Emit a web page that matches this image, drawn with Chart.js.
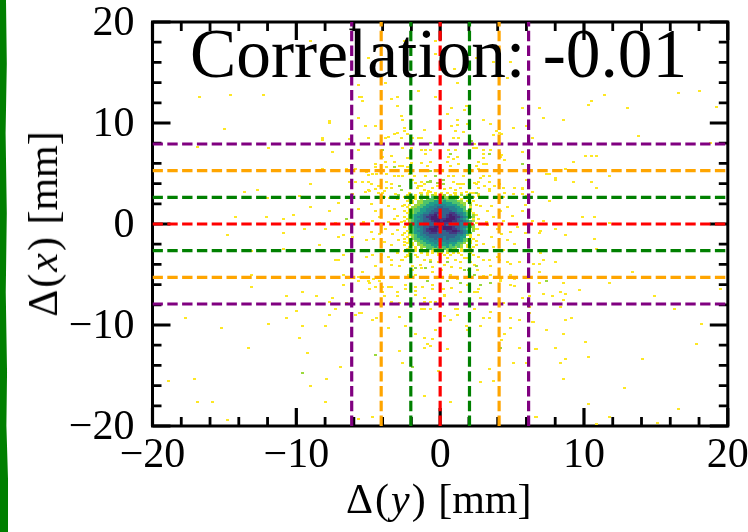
<!DOCTYPE html>
<html>
<head>
<meta charset="utf-8">
<style>
  html, body { margin: 0; padding: 0; background: #fff; overflow: hidden; }
  #wrap { position: relative; width: 748px; height: 532px; font-family: "Liberation Serif", serif; color: #000; }
  #stripe { position: absolute; left: 0; top: 0; width: 8px; height: 532px; background: #007f00;
    clip-path: polygon(0 0, 75% 0, 85% 12%, 70% 25%, 85% 40%, 72% 55%, 88% 70%, 80% 80%, 100% 90%, 100% 100%, 0 100%); }
  canvas { position: absolute; left: 0; top: 0; }
  .txt { position: absolute; white-space: nowrap; line-height: 1; }
  .math { letter-spacing: 2px; }
  #xlabel { left: 346px; top: 478px; font-size: 42px; }
  #ylabel { left: 43px; top: 224px; font-size: 42px; transform: translate(-50%, -50%) rotate(-90deg); }
  #corr { left: 190px; top: 19px; font-size: 69.4px; }
</style>
</head>
<body>
<div id="wrap">
  <div id="stripe"></div>
  <canvas id="chart" width="748" height="532"></canvas>
  <div class="txt" id="corr">Correlation: -0.01</div>
  <div class="txt" id="xlabel"><span class="math">Δ(<i>y</i>)</span> [mm]</div>
  <div class="txt" id="ylabel"><span class="math">Δ(<i>x</i>)</span> [mm]</div>
</div>
<script src="https://cdn.jsdelivr.net/npm/chart.js@4/dist/chart.umd.js"></script>
<script>
const axisMin = -20;
const axisMax = 20;
const majorTicks = [-20, -10, 0, 10, 20];
const minorTicks = [-18, -16, -14, -12, -8, -6, -4, -2, 2, 4, 6, 8, 12, 14, 16, 18];

// dashed cut lines, in mm
const horizontalCuts = [7.92, 5.28, 2.64, 0, -2.64, -5.28, -7.92];
const verticalCuts = [6.15, 4.1, 2.04, 0, -2.04, -4.1, -6.15];
const cutColors = { 0: 'red', 2: 'green', 5: 'orange', 7: 'purple', 4: 'orange', 6: 'purple' };

// histogram colours, lowest count first
const levelColors = ['#fde725', '#9bd93c', '#4ec36b', '#1f9e89', '#26828e', '#33638d', '#443983', '#481f70'];

// core of the histogram, one string per row, digit = colour level, dot = empty bin
const coreXStart = -2.5;
const coreYStart = 3.1;
const binSize = 0.2;
const coreRows = [
  "..0...0.0..0.0.0..0.0...0.",
  ".0..0.1.0.10.01.0.0.1.0...",
  "0...0.1.1.2012110.10.0..0.",
  "..0.0.1.12212221221.0.....",
  ".0.0.1122223323222211.0.0.",
  "...0.11223333333322211.0..",
  "0.0.112233344443333221.1.0",
  ".0.1122334445544443322.0..",
  "..01223344455555444332.1..",
  "0.0122334455555554433210..",
  ".0.12334455665556654432.0.",
  "..123345566755567665432.10",
  "0.12344566776556776654321.",
  ".0123345567776677765432.0.",
  "0.12344555677677766554321.",
  "..1334455556776665554432.0",
  ".013344555566765555544321.",
  "0.12344556677677765544321.",
  "..123345677766777665432.10",
  ".0.23445667765566776543.1.",
  "0.1233455666555566655432..",
  "..01234455555555555443 10.".replace(' ', ''),
  ".0.1233445555545554433.0..",
  "0.012233444545454444321.0.",
  "..0.12233444444444433210.0",
  ".0.0.122333433343332 21.0.".replace(' ', ''),
  "0..0.112223333332322 1.0..".replace(' ', ''),
  "..0.0.112223222 322121.0.0".replace(' ', ''),
  ".0..0.1.22112121211.0..0..",
  "0...0.0.1.0101.1010.0.0...",
  "..0...0.0.0.00.0.0.0...0..",
  ".0..0...0...0.0.0...0...0."
];

// single-count bins outside the core (x, y in mm)
const yellowCells = [
  [-16.75,12.6],[-14.6,12.8],[-12.3,12.8],[-7.7,10.2],[-7.7,10.0],[-15.0,9.4],[-8.2,8.3],[-8.2,8.5],[-16.9,7.6],[-11.9,7.5],
  [-7.5,7.1],[-5.7,7.3],[-8.2,5.4],[-6.5,5.4],[-9.0,4.0],[-13.6,3.2],[-12.7,3.4],[-9.8,2.8],[-12.0,2.6],[-9.0,1.7],
  [-7.1,2.1],[-7.7,1.3],[-5.7,1.5],[-14.2,0.7],[-12.1,0.7],[-10.9,0.5],[-10.2,0.9],[-5.7,13.8],[-5.6,12.6],[-5.7,10.5],
  [-6.3,8.4],[-6.3,4.2],[-5.9,4.2],[-6.1,3.0],[-5.9,5.4],
  [-14.8,-1.1],[-10.9,-0.9],[-9.4,-0.5],[-8.4,0.1],[-7.3,0.1],[-8.0,-0.5],[-7.1,-1.3],[-6.7,-1.1],[-6.1,-1.3],[-8.4,-2.1],
  [-10.9,-2.5],[-13.1,-2.7],[-6.7,-3.1],[-7.3,-3.6],[-7.1,-3.6],[-13.1,-5.0],[-7.5,-5.2],[-6.7,-5.0],[-5.7,-5.2],[-5.7,-5.6],
  [-6.7,-6.0],[-13.1,-6.2],[-10.7,-7.1],[-9.6,-6.7],[-8.6,-7.1],[-7.5,-7.3],[-7.7,-7.7],[-6.5,-7.9],[-10.0,-8.6],[-7.3,-8.4],
  [-7.7,-9.0],[-5.9,-9.0],[-5.6,-8.8],[-17.7,-9.3],[-10.7,-9.3],[-15.2,-10.3],[-11.9,-9.9],[-9.6,-10.1],[-8.0,-10.1],[-9.8,-11.3],
  [-13.3,-12.3],[-9.2,-12.8],[-6.9,-14.2],[-7.9,-15.3],[-9.0,-16.0],[-17.1,-15.3],[-18.9,-15.5],[-16.9,-17.6],[-15.8,-17.6],[-8.0,-17.6],
  [-14.8,-19.4],[-5.7,-19.3],
  [11.4,12.8],[10.5,12.2],[10.3,11.8],[13.0,11.5],[16.6,13.0],[18.0,13.2],[19.2,11.6],[5.7,11.5],[6.9,11.5],[7.2,10.5],
  [8.6,10.3],[6.4,8.5],[13.8,8.7],[18.8,8.0],[5.7,7.1],[10.1,6.7],[10.5,6.7],[10.9,6.7],[9.3,6.1],[8.7,5.4],
  [7.4,5.0],[7.6,5.0],[8.0,4.6],[8.0,4.4],[11.8,4.8],[6.0,4.4],[9.3,4.2],[10.5,4.2],[10.9,3.6],[5.7,3.6],
  [6.4,3.2],[5.7,3.0],[6.0,2.8],[7.6,2.3],[5.9,1.9],[5.7,1.3],[6.4,0.3],[7.2,0.3],[9.9,0.7],[10.7,0.7],
  [8.9,0.1],[11.8,0.1],[8.0,-0.5],[7.0,-0.7],[6.9,-0.9],[5.9,-0.9],[8.7,-1.1],[10.7,-1.5],[10.9,-2.5],[7.0,-2.9],
  [7.2,-3.6],[6.9,-4.0],[8.0,-3.8],[6.9,-4.8],[13.4,-4.8],[6.9,-5.8],[8.6,-5.8],[11.8,-5.8],[9.7,-6.5],[8.4,-6.7],
  [8.7,-6.9],[7.2,-6.9],[7.8,-7.1],[14.9,-7.1],[19.5,-6.4],[8.6,-7.5],[5.7,-7.3],[6.2,-7.1],
  [6.2,-8.2],[8.4,-8.2],[6.2,-8.8],[6.4,-9.7],[8.7,-9.5],[9.1,-9.3],[16.3,-8.4],[18.2,-9.9],[7.4,-10.5],[8.6,-10.9],
  [10.1,-11.7],[17.8,-11.9],[6.6,-12.4],[8.0,-12.3],[6.0,-13.8],[8.4,-13.8],[8.7,-13.4],[10.3,-13.2],[14.1,-13.4],[8.6,-15.3],
  [12.8,-16.2],[10.3,-17.8],[16.6,-18.3],[6.6,-19.1],[11.8,-19.1],[15.1,-19.7],[10.9,-19.8],
  [-9.0,18.1],[-2.5,18.1],[-0.3,18.1],[-0.3,16.8],[-5.0,16.4],[-3.8,14.0],[2.5,16.4],[3.7,16.0],[4.9,16.0],[1.0,15.3],
  [4.7,14.5],[1.2,14.0],[-1.5,13.2],[-0.3,12.6],[-5.5,12.6],[-5.4,12.2],[-3.4,12.4],[-3.0,12.6],[-3.0,11.7],[-2.7,10.7],
  [-2.6,10.3],[0.5,10.9],[0.8,11.5],[1.7,11.3],[1.8,11.7],[1.2,10.3],[3.0,10.3],[1.9,9.9],[0.8,9.7],[1.2,9.8],
  [3.5,9.9],[5.1,9.5],[6.0,9.7],[-5.2,9.7],[-4.5,9.7],[-2.5,9.5],[-1.1,9.3],[1.1,9.2],[1.6,9.1],[3.9,9.2],
  [-3.6,8.6],[-3.0,9.0],[-3.8,8.5],[-2.5,9.2],[-1.5,8.5],[-1.3,8.5],[0.9,8.5],[1.3,8.5],[3.7,8.8],[4.1,9.0],
  [-5.0,8.5],[-3.2,8.9],[-2.7,8.5],[-2.3,8.9],[-1.9,8.5],[4.3,8.9],[2.4,7.9],[-2.6,7.5],[-2.0,7.5],[-1.3,7.3],
  [-1.0,7.3],[-0.7,7.3],[0.6,7.3],[1.1,7.3],[2.3,7.5],[2.5,7.5],[3.0,7.3],[3.5,7.3],[-3.4,6.7],[-2.3,6.5],
  [-2.0,6.0],[-1.0,6.9],[0.6,6.6],[1.2,6.6],[0.9,6.4],[3.0,6.9],[3.0,6.5],[4.1,7.0],[4.3,6.8],[4.2,6.6],
  [-4.0,6.6],[-3.8,6.1],[-3.2,6.1],[-4.5,5.9],[-4.5,5.6],[-3.7,5.6],[-2.8,5.7],[-2.6,5.7],[-1.3,6.0],[-0.7,6.1],
  [-0.9,5.7],[0.5,6.1],[0.7,5.7],[1.3,5.9],[2.7,6.1],[3.0,5.9],[3.2,5.9],[4.5,6.3],[2.5,5.7],[2.7,5.4],
  [-5.1,5.1],[-5.0,4.9],[-4.7,5.0],[-4.4,5.0],[-3.7,5.0],[-3.2,4.8],[-2.3,5.6],[-2.1,5.0],[-1.8,4.8],[-1.0,4.8],
  [0.6,4.8],[0.9,4.8],[1.6,4.8],[3.0,4.8],[3.4,4.8],[2.8,4.6],[-2.9,4.8],[-2.6,4.8],[-5.4,4.2],[-5.0,4.2],
  [-4.8,4.0],[-3.7,4.2],[-3.4,4.0],[-1.9,4.4],[-1.3,4.2],[0.9,4.2],[1.2,4.0],[1.6,4.0],[2.4,4.1],[2.7,4.2],
  [3.4,4.2],[3.8,3.8],[-4.3,3.8],[-3.7,3.6],[-3.4,3.6],[-3.1,3.0],[-1.7,4.1],[-1.5,3.8],[-1.3,3.8],[-1.1,3.4],
  [-0.7,3.2],[-0.5,3.6],[0.7,3.6],[1.1,3.4],[1.4,3.6],[1.8,3.2],[2.7,3.6],[3.1,3.8],[3.4,3.5],[4.4,3.6],
  [5.2,3.6],[5.7,3.5],[-5.0,3.4],[-5.2,3.2],[-4.3,3.1],[-3.9,3.3],[4.5,3.1],[5.1,3.0],[2.7,2.8],[3.1,2.6],
  [4.4,2.7],[-3.9,2.7],[-3.5,2.6],
  [-4.9,3.3],[-4.5,3.5],[-4.0,3.1],[-4.8,2.0],[-4.5,1.3],[-4.2,0.7],[-3.6,1.8],[-3.2,1.5],[-3.0,2.5],[-2.6,1.8],
  [-4.7,0.3],[-5.3,0.2],[-4.1,-0.1],[-3.6,0.2],[-3.2,0.5],[-3.0,0.8],[-2.7,0.2],[-4.8,-0.8],[-4.2,-1.0],[-3.8,-0.5],
  [-3.3,-1.0],[-3.0,-0.6],[-2.5,-0.3],[-5.1,-1.6],[-4.6,-1.5],[-3.9,-1.8],[-3.4,-2.1],[-2.9,-1.6],[-2.6,-1.1],[-2.5,-1.8],
  [-5.1,-3.3],[-4.1,-3.1],[-3.6,-3.3],[-3.0,-2.9],[-2.6,-3.6],[-2.4,-3.3],
  [2.7,3.0],[3.4,3.3],[4.1,4.0],[2.8,1.8],[3.3,1.3],[3.6,1.8],[4.2,1.3],[4.7,1.7],[2.7,0.5],[3.2,0.2],
  [3.7,0.7],[4.4,0.3],[5.0,0.8],[2.6,-0.5],[3.3,-0.1],[4.0,-0.5],[2.7,-1.1],[3.6,-1.3],[4.3,-1.0],[4.9,-0.8],
  [5.4,-0.3],[4.7,-1.6],[2.5,-2.1],[3.0,-2.0],[3.7,-2.3],[4.4,-2.6],[5.2,-2.0],[2.7,-3.3],[3.4,-3.6],[4.0,-3.3],[4.7,-3.8],
  [-1.6,3.6],[-1.1,4.0],[-0.2,3.8],[0.3,3.5],[0.7,3.6],[1.4,4.0],[2.5,4.0],[-1.4,3.1],[-0.8,3.3],[1.0,3.1],[2.1,3.1],
  [-1.6,-3.3],[-0.7,-3.6],[-0.1,-3.8],[0.5,-3.4],[1.1,-3.6],[1.7,-3.4],[2.1,-3.8],[-1.4,-4.1],[-0.5,-4.3],[0.3,-4.1],
  [0.8,-4.3],[1.4,-4.4],[2.4,-4.1],
  [-4.7,-3.1],[-4.5,-4.2],[-4.1,-3.8],[-3.4,-3.6],[-3.4,-4.1],[-2.7,-3.6],[-2.8,-4.2],[-2.2,-3.2],[-1.9,-4.2],[-1.3,-4.4],
  [-1.1,-3.6],[1.4,-3.8],[1.9,-3.4],[3.0,-3.6],[3.5,-4.2],[4.1,-3.6],[5.5,-3.8],[4.9,-4.0],[6.5,-4.0],
  [-5.4,-4.8],[-5.7,-5.2],[-5.0,-5.6],[-4.6,-5.4],[-4.2,-5.2],[-4.2,-5.6],[-3.2,-5.2],[-2.2,-5.0],[-1.9,-4.6],[-1.7,-5.0],
  [-1.3,-5.2],[-0.5,-4.8],[0.1,-4.6],[0.7,-5.0],[1.2,-5.4],[2.6,-4.6],[3.0,-5.1],[3.5,-5.0],[4.2,-5.4],[4.9,-5.0],
  [5.2,-5.4],[-4.9,-5.8],[-4.5,-6.2],[-3.6,-6.2],[-3.4,-6.2],[-4.9,-6.4],[-4.0,-6.2],[-2.4,-6.0],[-1.7,-6.2],[-1.2,-6.2],
  [-0.5,-6.0],[2.0,-6.0],[4.2,-5.6],[4.9,-6.0],[5.2,-6.1],[-3.0,-6.7],[-2.4,-6.4],[-4.0,-6.7],[-3.9,-7.1],[-3.0,-7.1],
  [-1.7,-6.6],[-1.7,-7.0],[-0.5,-6.4],[0.2,-6.4],[0.3,-7.0],[0.8,-6.3],[1.4,-6.7],[1.9,-6.0],[2.4,-6.7],[2.6,-6.7],
  [2.7,-6.4],[-1.1,-7.3],[-1.1,-7.7],[-0.7,-7.7],[-0.3,-7.7],[0.3,-7.1],[2.8,-7.3],[-6.5,-7.8],[-3.4,-7.7],[-2.8,-7.8],
  [4.1,-7.8],[4.4,-7.8],[-1.1,-8.4],[-1.3,-8.4],[-0.7,-8.4],[1.1,-8.4],[1.2,-8.4],[2.4,-8.4],[3.5,-8.7],[-5.9,-9.0],
  [-5.5,-8.8],[-4.7,-9.5],[-4.4,-9.3],[-2.8,-9.2],[-2.4,-10.1],[0.3,-9.1],[0.7,-9.5],[1.2,-9.0],[3.0,-9.3],[3.4,-9.3],
  [4.9,-9.3],[5.5,-9.5],[6.5,-9.7],[-3.6,-10.3],[-0.3,-10.5],[1.8,-10.1],[2.8,-10.1],[4.9,-10.3],[-1.7,-10.9],[-1.1,-11.3],
  [-0.5,-11.4],[1.9,-10.5],[4.5,-10.9],
  [0.5,-12.4],[-1.1,-12.3],[-0.7,-12.1],[-0.9,-11.9],[-2.8,-12.6],[-2.6,-13.8],[-0.1,-14.6],[-1.1,-17.0],[0.7,-17.6],[-4.7,-19.1],
  [4.3,-11.5],[5.5,-12.3],[6.7,-12.4],[5.1,-13.8],[6.0,-13.8],[3.4,-14.4],[2.8,-15.6],[3.7,-15.5],[6.7,-19.1]
];

// two-count bins outside the core
const greenCells = [
  [-6.5,0.5],[-9.6,-14.8],[5.7,5.9],[7.4,-5.6],[-0.7,8.0],[2.2,8.2],[-4.0,7.3],[0.7,6.9],[3.4,6.9],[-3.2,5.6],
  [-0.7,5.2],[-0.3,4.8],[0.2,4.4],[-0.9,4.2],[-0.7,4.2],[-0.2,4.1],[0.2,4.0],[-2.8,3.8],[-2.7,3.4],[-2.9,2.9],
  [2.5,3.1],[-0.7,4.3],[-1.7,-4.4],[-1.0,-4.4],[-0.7,-3.8],[0.5,-3.8],[2.5,-4.2],[1.7,-4.6],[2.0,-4.6],[2.4,-5.0],
  [-0.9,-5.6],[0.5,-5.6],[1.4,-5.8],[2.8,-6.0],[3.5,-5.8],[4.2,-12.3],[-4.5,-13.0],[-1.9,-14.2]
];

// one small filled canvas per level, used as the point shape of the bins
function makeBinShape(color) {
  const c = document.createElement('canvas');
  c.width = 3;
  c.height = 2;
  const g = c.getContext('2d');
  g.fillStyle = color;
  g.fillRect(0, 0, 3, 2);
  return c;
}

function binDataset(cells, level) {
  return {
    type: 'scatter',
    data: cells.map(function (p) { return { x: p[0], y: p[1] }; }),
    pointStyle: makeBinShape(levelColors[level]),
    pointRadius: 1.5,
    pointHoverRadius: 1.5,
    showLine: false,
    order: 10 + levelColors.length - level
  };
}

const coreCells = levelColors.map(function () { return []; });
coreRows.forEach(function (row, r) {
  row.split('').forEach(function (ch, c) {
    if (ch !== '.') {
      coreCells[Number(ch)].push([coreXStart + c * binSize, coreYStart - r * binSize]);
    }
  });
});

const datasets = [];
datasets.push(binDataset(yellowCells, 0));
datasets.push(binDataset(greenCells, 1));
coreCells.forEach(function (cells, level) {
  datasets.push(binDataset(cells, level));
});

function cutDataset(points, color, order) {
  return {
    type: 'scatter',
    data: points,
    showLine: true,
    borderColor: color,
    borderWidth: 3.2,
    borderDash: [10.4, 4.4],
    borderCapStyle: 'butt',
    pointRadius: 0,
    fill: false,
    order: order
  };
}

function cutColor(v) {
  return cutColors[Math.floor(Math.abs(v))];
}

horizontalCuts.forEach(function (v) {
  datasets.push(cutDataset([{ x: axisMin, y: v }, { x: axisMax, y: v }], cutColor(v), 5));
});
verticalCuts.forEach(function (v) {
  datasets.push(cutDataset([{ x: v, y: axisMin }, { x: v, y: axisMax }], cutColor(v), 1));
});

// frame and inward ticks on all four sides, drawn below the data
const frameAndTicks = {
  id: 'frameAndTicks',
  beforeDatasetsDraw(chart) {
    const ctx = chart.ctx;
    const area = chart.chartArea;
    const xs = chart.scales.x;
    const ys = chart.scales.y;
    ctx.save();
    ctx.strokeStyle = '#000';

    function drawTicks(values, len, width) {
      ctx.lineWidth = width;
      ctx.beginPath();
      values.forEach(function (v) {
        const px = xs.getPixelForValue(v);
        const py = ys.getPixelForValue(v);
        ctx.moveTo(px, area.bottom);
        ctx.lineTo(px, area.bottom - len);
        ctx.moveTo(px, area.top);
        ctx.lineTo(px, area.top + len);
        ctx.moveTo(area.left, py);
        ctx.lineTo(area.left + len, py);
        ctx.moveTo(area.right, py);
        ctx.lineTo(area.right - len, py);
      });
      ctx.stroke();
    }
    drawTicks(majorTicks, 18, 3.2);
    drawTicks(minorTicks, 9, 2.8);

    ctx.lineWidth = 3;
    ctx.strokeRect(area.left, area.top, area.right - area.left, area.bottom - area.top);
    ctx.restore();
    // the bins are drawn after this hook, keep them crisp
    ctx.imageSmoothingEnabled = false;
  }
};

const tickFont = { family: '"Liberation Serif"', size: 42 };

function tickText(value) {
  return value < 0 ? '\u2212' + Math.abs(value) : String(value);
}

new Chart(document.getElementById('chart'), {
  type: 'scatter',
  data: { datasets: datasets },
  options: {
    responsive: false,
    animation: false,
    events: [],
    layout: { padding: { top: 22, right: 20.2, bottom: 0, left: 0 } },
    plugins: { legend: { display: false }, tooltip: { enabled: false }, title: { display: false } },
    scales: {
      x: {
        type: 'linear',
        min: axisMin,
        max: axisMax,
        afterFit(scale) { scale.height = 106; scale.paddingLeft = 0; scale.paddingRight = 0; },
        grid: { display: false },
        border: { display: false },
        ticks: { stepSize: 10, color: '#000', font: tickFont, padding: -3, maxRotation: 0, callback: tickText }
      },
      y: {
        type: 'linear',
        min: axisMin,
        max: axisMax,
        afterFit(scale) { scale.width = 152.5; scale.paddingTop = 0; scale.paddingBottom = 0; },
        grid: { display: false },
        border: { display: false },
        ticks: { stepSize: 10, color: '#000', font: tickFont, padding: 10, labelOffset: 2, callback: tickText }
      }
    }
  },
  plugins: [frameAndTicks]
});
</script>
</body>
</html>
